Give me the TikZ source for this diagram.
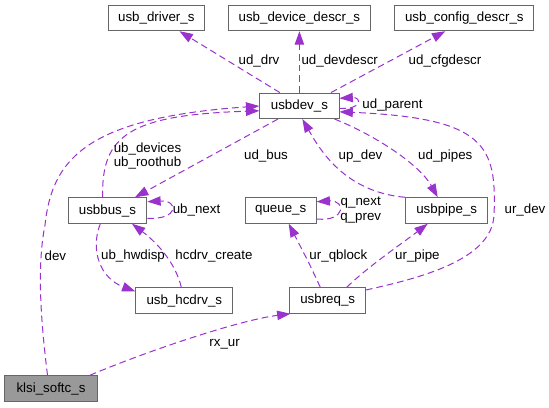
\documentclass[tikz,border=0pt]{standalone}
\usepackage{fontspec}
\setmainfont{Liberation Sans}
\usetikzlibrary{arrows.meta,calc}
\definecolor{edgec}{HTML}{9A32CD}
\definecolor{boxc}{HTML}{666666}
\definecolor{rootfill}{HTML}{999999}
\begin{document}
\begin{tikzpicture}[x=0.75pt,y=-0.75pt,
  box/.style={draw=boxc, line width=0.75pt, fill=white, minimum height=19.1pt, inner sep=0pt, font=\fontsize{10pt}{12pt}\selectfont},
  rootbox/.style={box, fill=rootfill},
  edge/.style={draw=edgec, line width=0.75pt, dash pattern=on 5pt off 3pt, -{Triangle[length=10pt,width=7pt]}},
  lbl/.style={font=\fontsize{10pt}{11pt}\selectfont, inner sep=0pt, align=center}]
\fill[white] (0,0) rectangle (549,407);
\useasboundingbox (0,0) rectangle (549,407);
% nodes
\node[box, minimum width=72.4pt] (drv) at (156.3,18) {usb\_driver\_s};
\node[box, minimum width=107pt] (devdescr) at (299.4,18) {usb\_device\_descr\_s};
\node[box, minimum width=104pt] (cfgdescr) at (464.3,18) {usb\_config\_descr\_s};
\node[box, minimum width=59.4pt] (usbdev) at (299.4,105.8) {usbdev\_s};
\node[box, minimum width=59.1pt] (usbbus) at (107.4,210.5) {usbbus\_s};
\node[box, minimum width=53.1pt] (queue) at (280.7,210.5) {queue\_s};
\node[box, minimum width=61.8pt] (usbpipe) at (446.7,210.5) {usbpipe\_s};
\node[box, minimum width=72.6pt] (hcdrv) at (184.3,300.5) {usb\_hcdrv\_s};
\node[box, minimum width=56.6pt] (usbreq) at (327.7,300.5) {usbreq\_s};
\node[rootbox, minimum width=69.7pt] (klsi) at (51,388.5) {klsi\_softc\_s};
% edges
\draw[edge] ($(usbdev.north)+(-19.6,0)$) -- ($(drv.south)+(23.2,0)$);
\draw[edge] (usbdev.north) -- (devdescr.south);
\draw[edge] ($(usbdev.north)+(31.6,0)$) -- ($(cfgdescr.south)+(-19,0)$);
\draw[edge] ($(usbdev.east)+(0,2.5)$) .. controls (362,110) and (362,97) .. ($(usbdev.east)+(0,-7.5)$);
\draw[edge] ($(usbdev.south)+(-21.4,0)$) -- ($(usbbus.north)+(27.6,0)$);
\draw[edge] ($(usbbus.north)+(-4.7,0)$) .. controls (101,135) and (130,115) .. ($(usbdev.west)+(0,5)$);
\draw[edge] ($(klsi.north)+(-3.5,0)$) .. controls (42,330) and (36,270) .. (45,225) .. controls (52,160) and (85,118) .. ($(usbdev.west)+(0,0.2)$);
\draw[edge] ($(usbbus.east)+(0,7.8)$) .. controls (179,220) and (179,200) .. ($(usbbus.east)+(0,-8.8)$);
\draw[edge] ($(usbbus.south)+(-7.1,0)$) .. controls (90,250) and (100,278) .. ($(hcdrv.west)+(0,-9)$);
\draw[edge] ($(hcdrv.north)+(-3,0)$) .. controls (176,265) and (160,245) .. ($(usbbus.south)+(24.6,0)$);
\draw[edge] ($(queue.east)+(0,8.5)$) .. controls (346,222) and (346,200) .. ($(queue.east)+(0,-8.8)$);
\draw[edge] (usbpipe.north west) .. controls (345,192) and (320,150) .. ($(usbdev.south)+(3,0)$);
\draw[edge] ($(usbdev.south east)+(-5,0)$) .. controls (375,135) and (420,165) .. ($(usbpipe.north)+(-9,0)$);
\draw[edge] ($(usbreq.east)+(0,-10.5)$) .. controls (420,278) and (492,260) .. (494,215) .. controls (497,145) and (485,118) .. ($(usbdev.east)+(0,6)$);
\draw[edge] ($(usbreq.north)+(-7.4,0)$) .. controls (310,265) .. ($(queue.south)+(8,0)$);
\draw[edge] ($(usbreq.north)+(19,0)$) .. controls (370,265) and (400,245) .. ($(usbpipe.south)+(-19,0)$);
\draw[edge] ($(klsi.north)+(38.8,0)$) .. controls (150,350) and (240,320) .. ($(usbreq.south west)+(1,0)$);
% labels
\node[lbl] (l1) at (259,61) {ud\_drv};
\node[lbl] (l2) at (339.7,61) {ud\_devdescr};
\node[lbl] (l3) at (445,61) {ud\_cfgdescr};
\node[lbl] (l4) at (392.5,105) {ud\_parent};
\node[lbl] (l5) at (266,156) {ud\_bus};
\node[lbl] (l6) at (147.5,156) {ub\_devices\\ub\_roothub};
\node[lbl] (l7) at (360.5,156.5) {up\_dev};
\node[lbl] (l8) at (445.3,156.5) {ud\_pipes};
\node[lbl] (l9) at (196.5,209.5) {ub\_next};
\node[lbl] (l10) at (360.7,209.8) {q\_next\\q\_prev};
\node[lbl] (l11) at (525,210) {ur\_dev};
\node[lbl] (l12) at (55.4,256) {dev};
\node[lbl] (l13) at (133,256) {ub\_hwdisp};
\node[lbl] (l14) at (214,256) {hcdrv\_create};
\node[lbl] (l15) at (338.4,256) {ur\_qblock};
\node[lbl] (l16) at (417.4,256) {ur\_pipe};
\node[lbl] (l17) at (224.6,344) {rx\_ur};
\end{tikzpicture}
\end{document}
